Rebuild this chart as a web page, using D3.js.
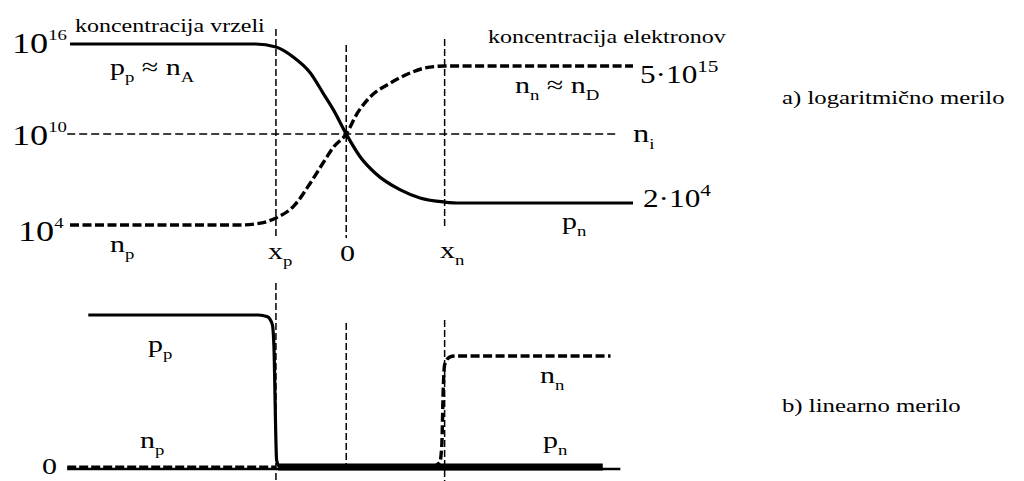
<!DOCTYPE html>
<html>
<head>
<meta charset="utf-8">
<script src="https://cdn.jsdelivr.net/npm/d3@7"></script>
<style>
  body { margin: 0; background: #fff; }
  svg { display: block; }
</style>
</head>
<body>
<svg id="chart" width="1024" height="481"></svg>
<script>
// Position along the diode (arbitrary length units, metallurgical junction at 0)
const xExtent = [-3.93, 4.08];
const junctionPos = { xp: -1, zero: 0, xn: 1.4 };

// Concentration levels marked on the log panel (cm^-3)
const levels = [1e4, 2e4, 1e10, 5e15, 1e16];
const nA = 1e16, nD = 5e15, ni = 1e10, npLevel = 1e4, pnLevel = 2e4;

// a) logarithmic scale: hole (p) and electron (n) concentration profiles
const holesLog = [
  [-3.93, 1e16], [-1.29, 1e16], [-1.0, 9.1e15], [-0.75, 6.6e15], [-0.51, 1.3e15],
  [-0.33, 2.7e13], [-0.18, 1.0e12], [0, 1e10], [0.2, 1.26e8], [0.41, 6.0e6],
  [0.77, 2.4e5], [1.05, 5.2e4], [1.4, 2.4e4], [1.62, 2e4], [4.08, 2e4]
];
const electronsLog = [
  [-3.93, 1e4], [-1.51, 1e4], [-1.22, 1.06e4], [-1.0, 1.25e4], [-0.75, 1.8e4],
  [-0.51, 9.0e5], [-0.33, 4.0e7], [-0.18, 8.4e8], [0, 1e10], [0.16, 5.8e11],
  [0.34, 1.26e13], [0.63, 1.9e14], [0.91, 1.3e15], [1.12, 3.4e15], [1.4, 5e15], [4.08, 5e15]
];
const intrinsicLine = [[-3.97, 1e10], [3.87, 1e10]];

// b) linear scale: majority carriers dominate, minority carriers sit on zero
const holesLin = [
  [-3.67, 1e16], [-1.25, 1e16], [-1.12, 9.8e15], [-1.05, 8.8e15], [-1.03, 6.5e15],
  [-0.99, 3e14], [-0.95, 2e13], [-0.87, 0]
];
const electronsLin = [
  [1.22, 0], [1.33, 2e14], [1.36, 1e15], [1.38, 3.5e15], [1.40, 4.6e15],
  [1.47, 4.95e15], [1.55, 5e15], [3.76, 5e15]
];
const minorityNp = [[-3.97, 1e4], [-1.0, 1e4]];
const minorityPn = [[-0.97, 2e4], [3.65, 2e4]];
const zeroAxis = [[-3.97, 0], [3.9, 0]];

const FONT = "'Liberation Serif', Tinos, 'Times New Roman', Times, 'DejaVu Serif', 'Noto Serif', serif";
const svg = d3.select("#chart");
const SX = 1.25; // horizontal glyph stretch used by every label

const x = d3.scaleLinear().domain(xExtent).range([70, 633]);
// schematic (piecewise) scales: each marked level gets its own spot
const yLog = d3.scaleLog().domain(levels).range([225, 203, 134, 66, 44]);
const yLin = d3.scaleLinear().domain([0, nD, nA]).range([467, 356, 315]);

const lineLog = d3.line().x(d => x(d[0])).y(d => yLog(d[1])).curve(d3.curveMonotoneX);
const lineLin = d3.line().x(d => x(d[0])).y(d => yLin(d[1])).curve(d3.curveMonotoneX);
const straightLog = d3.line().x(d => x(d[0])).y(d => yLog(d[1]));
const straightLin = d3.line().x(d => x(d[0])).y(d => yLin(d[1]));

// text with sub/superscripts; parts = [[string, "n"|"sub"|"sup"], ...]
function label(xp, yp, parts, size, small) {
  const t = svg.append("text")
    .attr("transform", `translate(${xp},${yp}) scale(${SX},1)`)
    .attr("font-family", FONT)
    .attr("fill", "#000")
    .attr("font-size", size);
  let shift = 0;
  parts.forEach(([s, kind]) => {
    const target = kind === "sub" ? size * 0.28 : kind === "sup" ? -size * 0.45 : 0;
    t.append("tspan")
      .attr("font-size", kind === "n" ? size : (small || size * 0.65))
      .attr("dy", target - shift)
      .text(s);
    shift = target;
  });
  return t;
}

// ---------- a) logarithmic panel ----------
const guidesTop = [
  { u: junctionPos.xp, y0: 29, y1: 237 },
  { u: junctionPos.zero, y0: 45, y1: 238 },
  { u: junctionPos.xn, y0: 39, y1: 228 }
];
svg.append("g").selectAll("line").data(guidesTop).join("line")
  .attr("x1", d => x(d.u)).attr("x2", d => x(d.u))
  .attr("y1", d => d.y0).attr("y2", d => d.y1)
  .attr("stroke", "#000").attr("stroke-width", 1.5).attr("stroke-dasharray", "7,3");

svg.append("path").attr("d", straightLog(intrinsicLine))
  .attr("fill", "none").attr("stroke", "#000").attr("stroke-width", 1.4)
  .attr("stroke-dasharray", "8,4");

svg.append("path").attr("d", lineLog(holesLog))
  .attr("fill", "none").attr("stroke", "#000").attr("stroke-width", 3.2);

svg.append("path").attr("d", lineLog(electronsLog))
  .attr("fill", "none").attr("stroke", "#000").attr("stroke-width", 3.4)
  .attr("stroke-dasharray", "9,3.5");

// level labels
label(12, yLog(nA) + 9, [["10", "n"], ["16", "sup"]], 29, 15);
label(12, yLog(ni) + 11, [["10", "n"], ["10", "sup"]], 29, 15);
label(18, yLog(npLevel) + 16, [["10", "n"], ["4", "sup"]], 29, 15);
label(640, yLog(nD) + 17, [["5·10", "n"], ["15", "sup"]], 25, 17);
label(633, yLog(ni) + 8, [["n", "n"], ["i", "sub"]], 26, 15);
label(643, yLog(pnLevel) + 4, [["2·10", "n"], ["4", "sup"]], 25, 17);

label(75, 32, [["koncentracija vrzeli", "n"]], 19.2);
label(488, 43, [["koncentracija elektronov", "n"]], 19.2);
label(110, 75, [["p", "n"], ["p", "sub"], [" ≈ n", "n"], ["A", "sub"]], 24, 15);
label(515, 93, [["n", "n"], ["n", "sub"], [" ≈ n", "n"], ["D", "sub"]], 24, 15);
label(110, 252, [["n", "n"], ["p", "sub"]], 24, 15);
label(562, 229, [["p", "n"], ["n", "sub"]], 24, 15);
label(268, 259, [["x", "n"], ["p", "sub"]], 24, 15);
label(340, 261, [["0", "n"]], 24);
label(440, 258, [["x", "n"], ["n", "sub"]], 24, 15);

label(782, 104, [["a) logaritmično merilo", "n"]], 19.8);

// ---------- b) linear panel ----------
const guidesBottom = [
  { u: junctionPos.xp, y0: 283, y1: 481 },
  { u: junctionPos.zero, y0: 323, y1: 467 },
  { u: junctionPos.xn, y0: 320, y1: 481 }
];
svg.append("g").selectAll("line").data(guidesBottom).join("line")
  .attr("x1", d => x(d.u)).attr("x2", d => x(d.u))
  .attr("y1", d => d.y0).attr("y2", d => d.y1)
  .attr("stroke", "#000").attr("stroke-width", 1.5).attr("stroke-dasharray", "7,3");

svg.append("path").attr("d", straightLin(zeroAxis))
  .attr("transform", "translate(0,2)")
  .attr("fill", "none").attr("stroke", "#000").attr("stroke-width", 2.5);

svg.append("path").attr("d", straightLin(minorityNp))
  .attr("fill", "none").attr("stroke", "#000").attr("stroke-width", 3)
  .attr("stroke-dasharray", "9,3");

svg.append("path").attr("d", straightLin(minorityPn))
  .attr("fill", "none").attr("stroke", "#000").attr("stroke-width", 7);

svg.append("path").attr("d", lineLin(holesLin))
  .attr("fill", "none").attr("stroke", "#000").attr("stroke-width", 3.2);

svg.append("path").attr("d", lineLin(electronsLin))
  .attr("fill", "none").attr("stroke", "#000").attr("stroke-width", 3.4)
  .attr("stroke-dasharray", "9,3.5");

label(42, yLin(0) + 7, [["0", "n"]], 24);
label(148, 352, [["p", "n"], ["p", "sub"]], 24, 15);
label(140, 448, [["n", "n"], ["p", "sub"]], 24, 15);
label(540, 383, [["n", "n"], ["n", "sub"]], 24, 15);
label(543, 448, [["p", "n"], ["n", "sub"]], 24, 15);

label(782, 412, [["b) linearno merilo", "n"]], 19.8);
</script>
</body>
</html>
